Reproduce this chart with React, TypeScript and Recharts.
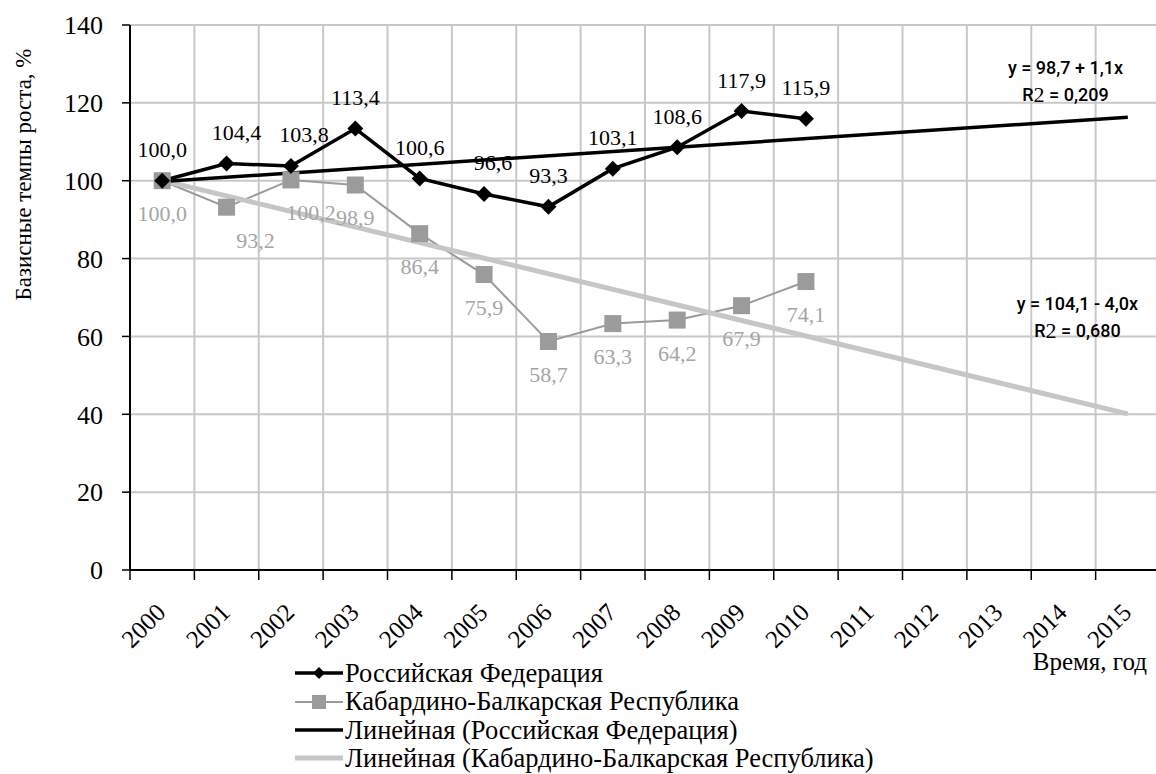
import React from 'react';
import {
  LineChart,
  Line,
  XAxis,
  YAxis,
  CartesianGrid,
  Legend,
  ReferenceDot,
  LabelList,
} from 'recharts';

// ---------- data ----------
const years = [
  '2000', '2001', '2002', '2003', '2004', '2005', '2006', '2007',
  '2008', '2009', '2010', '2011', '2012', '2013', '2014', '2015',
];
const russia = [100.0, 104.4, 103.8, 113.4, 100.6, 96.6, 93.3, 103.1, 108.6, 117.9, 115.9];
const kbr = [100.0, 93.2, 100.2, 98.9, 86.4, 75.9, 58.7, 63.3, 64.2, 67.9, 74.1];
// linear trend lines: values read at the first and last year only
const trendRussia = [99.8, null, null, null, null, null, null, null, null, null, null, null, null, null, null, 116.3];
const trendKbr = [100.1, null, null, null, null, null, null, null, null, null, null, null, null, null, null, 40.1];
const yTicks = [0, 20, 40, 60, 80, 100, 120, 140];

const seriesNames = [
  'Российская Федерация',
  'Кабардино-Балкарская Республика',
  'Линейная (Российская Федерация)',
  'Линейная (Кабардино-Балкарская Республика)',
];
const eqRussia = ['y = 98,7 + 1,1x', '0,209'];
const eqKbr = ['y = 104,1 - 4,0x', '0,680'];

const data = years.map((year, i) => ({
  year,
  rf: russia[i] ?? null,
  kbr: kbr[i] ?? null,
  trf: trendRussia[i],
  tkbr: trendKbr[i],
}));

// ---------- layout & styles ----------
const PLOT_WIDTH = 1030; // plot area width (extends past the right page edge as in the reference)
const HALF_BAND = PLOT_WIDTH / years.length / 2;

const SERIF = "'Liberation Serif', 'Times New Roman', serif";
const SANS = "Roboto, 'Liberation Sans', Arial, sans-serif";
const BLACK = '#000000';
const GRAY = '#9b9b9b';
const LABEL_GRAY = '#a5a5a5';
const TREND_GRAY = '#c6c6c6';
const GRID = '#c8c8c8';

// small horizontal nudges of a few data labels (pixels), keyed by point index
const nudgeRF: Record<number, number> = { 1: 10, 2: 13, 5: 9 };
const nudgeKBR: Record<number, number> = { 1: 29, 2: 20 };

const fmt = (v: number) => v.toFixed(1).replace('.', ',');

const makeLabel = (above: boolean, color: string, nudge: Record<number, number>) => (props: any) => {
  const { value, index } = props;
  if (value === null || value === undefined) return null;
  const px = props.x ?? props.viewBox?.x;
  const py = props.y ?? props.viewBox?.y;
  if (px == null || py == null) return null;
  const dx = nudge[index] ?? 0;
  return (
    <text
      key={`lbl-${index}`}
      x={px + dx}
      y={above ? py - 31 : py + 33}
      textAnchor="middle"
      dominantBaseline="central"
      fontFamily={SERIF}
      fontSize={22}
      fill={color}
    >
      {fmt(value)}
    </text>
  );
};

const Diamond = (props: any) => {
  const { cx, cy, index } = props;
  if (cx == null || cy == null) return <g key={`d-${index}`} />;
  const s = 8;
  return (
    <polygon
      key={`d-${index}`}
      points={`${cx},${cy - s} ${cx + s},${cy} ${cx},${cy + s} ${cx - s},${cy}`}
      fill={BLACK}
    />
  );
};

const Square = (props: any) => {
  const { cx, cy, index } = props;
  if (cx == null || cy == null) return <g key={`s-${index}`} />;
  const s = 8.5;
  return <rect key={`s-${index}`} x={cx - s} y={cy - s} width={2 * s} height={2 * s} fill={GRAY} />;
};

const XTick = (props: any) => {
  const { x, y, payload } = props;
  const axisY = y - 10;
  const tx = x + 5;
  const ty = axisY + 44;
  return (
    <g>
      <line x1={x - HALF_BAND} y1={axisY} x2={x - HALF_BAND} y2={axisY + 10} stroke={BLACK} strokeWidth={1.5} />
      <text
        x={tx}
        y={ty}
        textAnchor="end"
        transform={`rotate(-45, ${tx}, ${ty})`}
        fontFamily={SERIF}
        fontSize={25}
        fill={BLACK}
      >
        {payload.value}
      </text>
    </g>
  );
};

const makeEquation = (lines: string[], dx: number) => (props: any) => {
  const { cx, cy } = props;
  if (cx == null || cy == null) return <g />;
  const x = cx + dx;
  return (
    <g>
      <text x={x} y={cy - 13} textAnchor="middle" dominantBaseline="central" fontFamily={SANS} fontWeight={500} fontSize={18} fill={BLACK}>
        {lines[0]}
      </text>
      <text x={x} y={cy + 13} textAnchor="middle" dominantBaseline="central" fontFamily={SANS} fontWeight={500} fontSize={18} fill={BLACK}>
        <tspan>R</tspan>
        <tspan fontFamily={SERIF} fontWeight={400} fontSize={22}>2</tspan>
        <tspan>{` = ${lines[1]}`}</tspan>
      </text>
    </g>
  );
};

const legendItems = [
  { name: seriesNames[0], color: BLACK, width: 3.5, marker: 'diamond' },
  { name: seriesNames[1], color: GRAY, width: 2, marker: 'square' },
  { name: seriesNames[2], color: BLACK, width: 3.5, marker: 'none' },
  { name: seriesNames[3], color: TREND_GRAY, width: 5, marker: 'none' },
];

const CustomLegend = () => (
  <div style={{ fontFamily: SERIF, fontSize: 26.5, color: BLACK, lineHeight: '28.4px' }}>
    {legendItems.map((it) => (
      <div key={it.name} style={{ display: 'flex', alignItems: 'center', height: 28.4, whiteSpace: 'nowrap' }}>
        <svg width={48} height={20} style={{ marginRight: 2, flex: '0 0 auto' }}>
          <line x1={0} y1={10} x2={48} y2={10} stroke={it.color} strokeWidth={it.width} />
          {it.marker === 'diamond' && <polygon points="24,4 30,10 24,16 18,10" fill={it.color} />}
          {it.marker === 'square' && <rect x={17} y={3} width={14} height={14} fill={it.color} />}
        </svg>
        <span>{it.name}</span>
      </div>
    ))}
  </div>
);

export default function App() {
  return (
    <div
      style={{
        position: 'fixed',
        left: 0,
        top: 0,
        width: 1156,
        height: 774,
        overflow: 'hidden',
        background: '#fff',
      }}
    >
      <LineChart
        width={1200}
        height={774}
        data={data}
        margin={{ top: 25, right: 1200 - 130 - PLOT_WIDTH, left: 0, bottom: 124 }}
      >
        <CartesianGrid
          stroke={GRID}
          strokeWidth={2}
          verticalCoordinatesGenerator={({ offset }: any) =>
            Array.from({ length: years.length + 1 }, (_, i) => offset.left + (i * offset.width) / years.length)
          }
        />
        <XAxis
          dataKey="year"
          interval={0}
          padding={{ left: HALF_BAND, right: HALF_BAND }}
          tickLine={false}
          tickSize={10}
          tickMargin={0}
          height={80}
          axisLine={{ stroke: BLACK, strokeWidth: 2 }}
          tick={<XTick />}
          label={{
            value: 'Время, год',
            position: 'insideBottomRight',
            dx: -8,
            dy: 25,
            fontFamily: SERIF,
            fontSize: 25,
            fill: BLACK,
          }}
        />
        <YAxis
          width={130}
          domain={[0, 140]}
          ticks={yTicks}
          interval={0}
          tickSize={8}
          tickMargin={19}
          axisLine={{ stroke: BLACK, strokeWidth: 2 }}
          tickLine={{ stroke: BLACK, strokeWidth: 1.5 }}
          tick={{ fontFamily: SERIF, fontSize: 26, fill: BLACK }}
          label={{
            value: 'Базисные темпы роста, %',
            angle: -90,
            position: 'center',
            dx: -42,
            dy: -123,
            fontFamily: SERIF,
            fontSize: 23,
            fill: BLACK,
          }}
        />
        <Legend
          layout="vertical"
          align="center"
          verticalAlign="middle"
          content={() => <CustomLegend />}
          wrapperStyle={{ position: 'absolute', left: 295, top: 659, width: 700, height: 114 }}
        />
        <Line
          dataKey="kbr"
          name={seriesNames[1]}
          stroke={GRAY}
          strokeWidth={2}
          dot={(p: any) => <Square key={`sq-${p.index}`} {...p} />}
          activeDot={false}
          isAnimationActive={false}
        >
          <LabelList dataKey="kbr" content={makeLabel(false, LABEL_GRAY, nudgeKBR)} />
        </Line>
        <Line
          dataKey="rf"
          name={seriesNames[0]}
          stroke={BLACK}
          strokeWidth={3.5}
          dot={(p: any) => <Diamond key={`dm-${p.index}`} {...p} />}
          activeDot={false}
          isAnimationActive={false}
        >
          <LabelList dataKey="rf" content={makeLabel(true, BLACK, nudgeRF)} />
        </Line>
        <Line
          dataKey="tkbr"
          name={seriesNames[3]}
          stroke={TREND_GRAY}
          strokeWidth={5}
          dot={false}
          activeDot={false}
          connectNulls
          isAnimationActive={false}
        />
        <Line
          dataKey="trf"
          name={seriesNames[2]}
          stroke={BLACK}
          strokeWidth={3.5}
          dot={false}
          activeDot={false}
          connectNulls
          isAnimationActive={false}
        />
        <ReferenceDot x="2014" y={125.7} r={0} ifOverflow="visible" shape={makeEquation(eqRussia, 2)} />
        <ReferenceDot x="2014" y={65.1} r={0} ifOverflow="visible" shape={makeEquation(eqKbr, 14)} />
      </LineChart>
    </div>
  );
}
